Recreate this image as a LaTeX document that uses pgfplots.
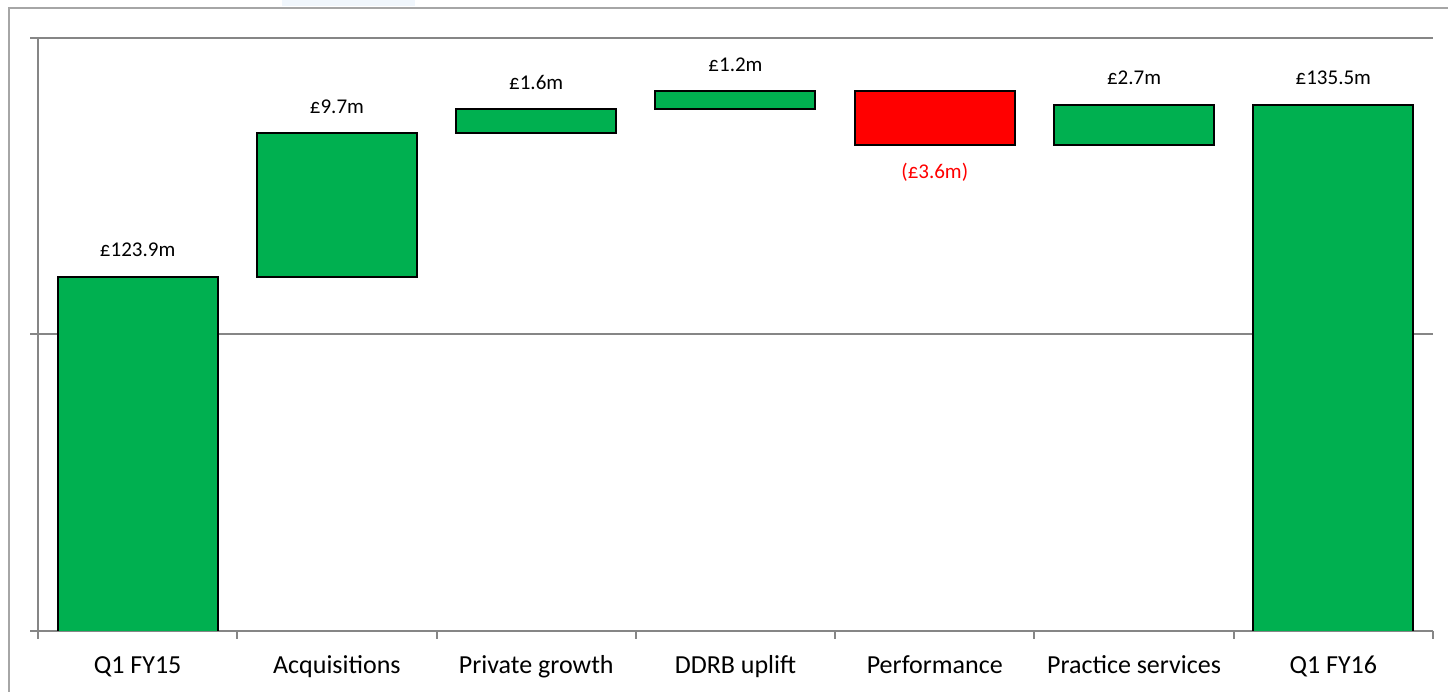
\documentclass[border=0pt]{standalone}
\usepackage{pgfplots}
\pgfplotsset{compat=1.18}
\usepackage{fontspec}
\setmainfont{Carlito}
\definecolor{wgreen}{HTML}{00B050}
\definecolor{wred}{HTML}{FF0000}
\definecolor{gridgray}{HTML}{868686}
\definecolor{framegray}{HTML}{A6A6A6}
\definecolor{haze}{HTML}{F0F6FC}
\tikzset{vlab/.style={font=\fontsize{21}{25}\selectfont, anchor=south, yshift=16pt}}
\begin{document}
\begin{tikzpicture}
\path[use as bounding box] (0pt,0pt) rectangle (1448pt,-691pt);
\clip (0pt,0pt) rectangle (1448pt,-691pt);
\fill[haze] (282pt,0pt) rectangle (415pt,-6pt);
\draw[framegray, line width=2.2pt] (9pt,-8pt) rectangle (1500pt,-750pt);
\begin{axis}[
  at={(38pt,-631pt)}, anchor=south west,
  scale only axis, width=1395pt, height=593pt,
  xmin=-0.5, xmax=6.5, ymin=100, ymax=140,
  enlargelimits=false,
  axis x line*=bottom, axis y line*=left,
  axis line style={gridgray, line width=2pt},
  ytick={100,120,140}, yticklabels={},
  ymajorgrids, major grid style={gridgray, line width=2pt},
  tick align=outside, major tick length=8pt,
  tick style={gridgray, line width=2pt},
  xtick={-0.5,0.5,...,6.5}, xticklabels={},
  extra x ticks={0,...,6},
  extra x tick labels={Q1 FY15, Acquisitions, Private growth, DDRB uplift, Performance, Practice services, Q1 FY16},
  extra x tick style={major tick length=0pt,
    xticklabel style={font=\fontsize{26}{30}\selectfont, text height=17pt, text depth=5pt, anchor=north, yshift=-22pt}},
  ybar stacked, bar width=160pt,
]
\addplot[fill=white, draw=white, opacity=0] coordinates {(0,0) (1,123.9) (2,133.6) (3,135.2) (4,132.8) (5,132.8) (6,0)};
\addplot[fill=wgreen, draw=black, line width=2pt] coordinates {(0,123.9) (1,9.7) (2,1.6) (3,1.2) (4,0) (5,2.7) (6,135.5)};
\addplot[fill=wred, draw=black, line width=2pt] coordinates {(0,0) (1,0) (2,0) (3,0) (4,3.6) (5,0) (6,0)};
\node[vlab] at (axis cs:0,123.9) {£123.9m};
\node[vlab] at (axis cs:1,133.6) {£9.7m};
\node[vlab] at (axis cs:2,135.2) {£1.6m};
\node[vlab] at (axis cs:3,136.4) {£1.2m};
\node[vlab] at (axis cs:5,135.5) {£2.7m};
\node[vlab] at (axis cs:6,135.5) {£135.5m};
\node[font=\fontsize{21}{25}\selectfont, text=wred, anchor=north, yshift=-15pt] at (axis cs:4,132.8) {(£3.6m)};
\end{axis}
\end{tikzpicture}
\end{document}
